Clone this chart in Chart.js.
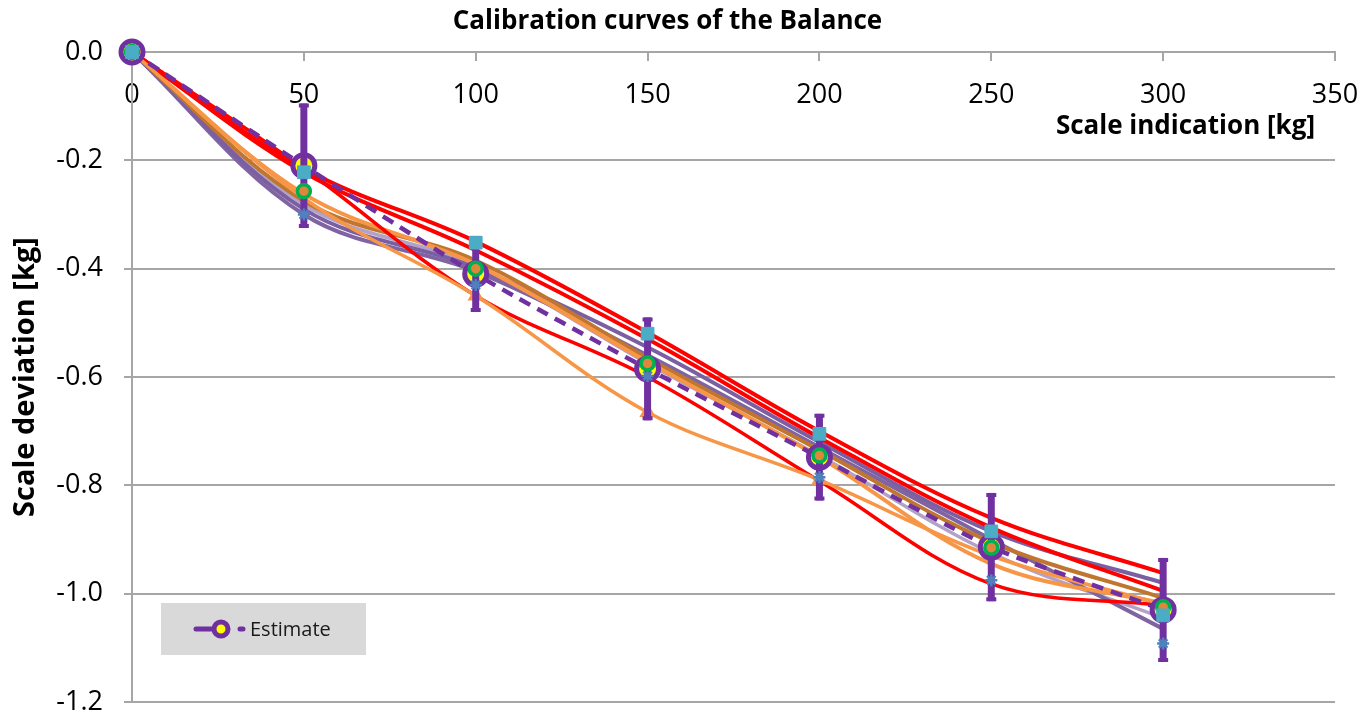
<!DOCTYPE html>
<html>
<head>
<meta charset="utf-8">
<script src="https://cdn.jsdelivr.net/npm/chart.js@4.4.1/dist/chart.umd.min.js"></script>
<style>
  html, body { margin: 0; padding: 0; background: #ffffff; }
  #wrap { width: 1362px; height: 718px; }
</style>
</head>
<body>
<div id="wrap"><canvas id="chart" width="1362" height="718"></canvas></div>
<script>
// Test loads placed on the balance [kg]
const loads = [0, 50, 100, 150, 200, 250, 300];
const xTickValues = [0, 50, 100, 150, 200, 250, 300, 350];
const yTickValues = [0.0, -0.2, -0.4, -0.6, -0.8, -1.0, -1.2];

// Estimated calibration curve and its uncertainty (half-width) [kg]
const estimate      = [0, -0.210, -0.410, -0.585, -0.748, -0.914, -1.030];
const estimateError = [0,  0.115,  0.070,  0.095,  0.080,  0.100,  0.096];

// Individual calibration runs [kg]
const runRedA      = [0, -0.215, -0.350, -0.518, -0.700, -0.860, -0.962];
const runRedB      = [0, -0.222, -0.366, -0.530, -0.712, -0.878, -0.995];
const runRedC      = [0, -0.215, -0.450, -0.600, -0.792, -0.982, -1.022];
const runOrangeA   = [0, -0.270, -0.450, -0.665, -0.790, -0.930, -1.020];
const runOrangeB   = [0, -0.262, -0.392, -0.572, -0.748, -0.945, -1.018];
const runBrown     = [0, -0.275, -0.385, -0.565, -0.735, -0.905, -1.008];
const runPurpleA   = [0, -0.290, -0.398, -0.545, -0.720, -0.885, -0.980];
const runPurpleB   = [0, -0.300, -0.405, -0.560, -0.730, -0.900, -1.065];
const runLavender  = [0, -0.282, -0.395, -0.575, -0.745, -0.925, -1.045];

// Readings shown as markers only [kg]
const readSquares  = [0, -0.222, -0.352, -0.520, -0.705, -0.885, -1.040];
const readRings    = [0, -0.257, -0.400, -0.575, -0.745, -0.915, -1.025];
const readStars    = [0, -0.300, -0.430, -0.598, -0.785, -0.975, -1.092];

const FONT = "'Open Sans', Lato, sans-serif";
const toPoints = (vals) => vals.map((v, i) => ({ x: loads[i], y: v }));

function runLine(label, vals, color, width, order) {
  return {
    label, data: toPoints(vals), borderColor: color, backgroundColor: color,
    borderWidth: width, pointRadius: 0, tension: 0.35, clip: false, order
  };
}

const datasets = [
  {
    label: 'Squares', data: toPoints(readSquares), showLine: false,
    pointStyle: 'rect', pointRadius: 9, borderWidth: 1,
    pointBackgroundColor: '#4bacc6', pointBorderColor: '#4bacc6', clip: false, order: 0
  },
  {
    label: 'Rings', data: toPoints(readRings), showLine: false,
    pointStyle: 'circle', pointRadius: 6.5, pointBorderWidth: 3.5,
    pointBackgroundColor: '#e0863a', pointBorderColor: '#00b050', clip: false, order: 0
  },
  {
    label: 'Stars', data: toPoints(readStars), showLine: false,
    pointStyle: 'star', pointRadius: 6, pointBorderWidth: 2.5,
    pointBorderColor: '#4f81bd', pointBackgroundColor: '#4f81bd', clip: false, order: 0
  },
  {
    label: 'Estimate', data: toPoints(estimate),
    borderColor: '#7030a0', backgroundColor: '#7030a0', borderWidth: 4.5, borderDash: [12, 8],
    pointStyle: 'circle', pointRadius: 11, pointBorderWidth: 5,
    pointBackgroundColor: '#ffff00', pointBorderColor: '#7030a0',
    tension: 0.2, clip: false, order: 1
  },
  Object.assign(runLine('Run 4', runOrangeA, '#f79646', 3.5, 2), {
    pointStyle: 'triangle', pointRadius: [0, 0, 6, 6, 6, 0, 0],
    pointBackgroundColor: '#f79646', pointBorderColor: '#f79646'
  }),
  runLine('Run 1', runRedA, '#ff0000', 4, 3),
  runLine('Run 2', runRedB, '#ff0000', 4, 3),
  runLine('Run 3', runRedC, '#ff0000', 3.5, 3),
  runLine('Run 5', runOrangeB, '#f79646', 4, 4),
  runLine('Run 6', runBrown, '#c0762e', 4, 4),
  runLine('Run 7', runPurpleA, '#7a5fa3', 4, 5),
  runLine('Run 8', runPurpleB, '#8064a2', 4, 5),
  runLine('Run 9', runLavender, '#b3a2c7', 3.5, 6)
];

// Vertical uncertainty bars around the estimate
const errorBars = {
  id: 'errorBars',
  afterDatasetDraw(chart, args) {
    if (chart.data.datasets[args.index].label !== 'Estimate') return;
    const { ctx, scales: { x, y } } = chart;
    ctx.save();
    ctx.strokeStyle = '#7030a0';
    ctx.lineCap = 'butt';
    loads.forEach((load, i) => {
      const e = estimateError[i];
      if (!e) return;
      const px = x.getPixelForValue(load);
      const top = y.getPixelForValue(estimate[i] + e);
      const bot = y.getPixelForValue(estimate[i] - e);
      ctx.lineWidth = 7;
      ctx.beginPath(); ctx.moveTo(px, top); ctx.lineTo(px, bot); ctx.stroke();
      ctx.lineWidth = 4;
      ctx.beginPath();
      ctx.moveTo(px - 5, top + 2); ctx.lineTo(px + 5, top + 2);
      ctx.moveTo(px - 5, bot - 2); ctx.lineTo(px + 5, bot - 2);
      ctx.stroke();
    });
    ctx.restore();
  }
};

// X axis title under the tick labels, and the single legend entry box
const annotations = {
  id: 'annotations',
  afterDraw(chart) {
    const { ctx, chartArea } = chart;
    ctx.save();
    ctx.fillStyle = '#000';
    ctx.font = "bold 26px " + FONT;
    ctx.textAlign = 'right';
    ctx.textBaseline = 'middle';
    ctx.fillText('Scale indication [kg]', chartArea.right - 20, chartArea.top + 75);

    const bx = chartArea.left + 29, by = chartArea.bottom - 99;
    ctx.fillStyle = '#d9d9d9';
    ctx.fillRect(bx, by, 205, 52);
    const cy = by + 26;
    ctx.strokeStyle = '#7030a0';
    ctx.lineWidth = 5;
    ctx.lineCap = 'round';
    ctx.beginPath(); ctx.moveTo(bx + 35, cy); ctx.lineTo(bx + 52, cy); ctx.stroke();
    ctx.beginPath(); ctx.moveTo(bx + 79, cy); ctx.lineTo(bx + 82, cy); ctx.stroke();
    ctx.beginPath();
    ctx.arc(bx + 60, cy, 7, 0, Math.PI * 2);
    ctx.fillStyle = '#ffff00';
    ctx.fill();
    ctx.lineWidth = 5;
    ctx.stroke();
    ctx.fillStyle = '#1a1a1a';
    ctx.font = "20px " + FONT;
    ctx.textAlign = 'left';
    ctx.fillText('Estimate', bx + 89, cy + 1);
    ctx.restore();
  }
};

new Chart(document.getElementById('chart'), {
  type: 'line',
  data: { datasets },
  plugins: [errorBars, annotations],
  options: {
    responsive: false,
    animation: false,
    events: [],
    layout: { padding: { left: 0, right: 27, top: 0, bottom: 15 } },
    plugins: {
      legend: { display: false },
      tooltip: { enabled: false },
      title: {
        display: true,
        text: 'Calibration curves of the Balance',
        color: '#000',
        font: { family: FONT, size: 26, weight: 'bold' },
        padding: { top: 6, bottom: 14.8 }
      }
    },
    scales: {
      x: {
        type: 'linear', min: 0, max: 350,
        position: { y: 0 },
        afterBuildTicks: (s) => { s.ticks = xTickValues.map(v => ({ value: v })); },
        afterFit: (s) => {
          s.height = 0;
          s.paddingLeft = 0; s.paddingRight = 0; s.paddingTop = 0; s.paddingBottom = 0;
        },
        ticks: {
          color: '#000', padding: 19, maxRotation: 0,
          font: { family: FONT, size: 27 },
          callback: (v) => String(v)
        },
        grid: { drawOnChartArea: false, drawTicks: true, tickLength: 8, color: '#a6a6a6', lineWidth: 2 },
        border: { color: '#a6a6a6', width: 2 }
      },
      y: {
        type: 'linear', min: -1.2, max: 0, position: 'left',
        afterBuildTicks: (s) => { s.ticks = yTickValues.map(v => ({ value: v })); },
        afterFit: (s) => {
          s.width = 132;
          s.paddingTop = 0; s.paddingBottom = 0;
        },
        ticks: {
          color: '#000', padding: 21,
          font: { family: FONT, size: 27 },
          callback: (v) => Number(v).toFixed(1)
        },
        grid: { color: '#a6a6a6', lineWidth: 2, tickLength: 8 },
        border: { color: '#a6a6a6', width: 2 },
        title: {
          display: true, text: 'Scale deviation [kg]', color: '#000',
          font: { family: FONT, size: 29, weight: 'bold' },
          padding: { top: 8, bottom: 0 }
        }
      }
    }
  }
});
</script>
</body>
</html>
